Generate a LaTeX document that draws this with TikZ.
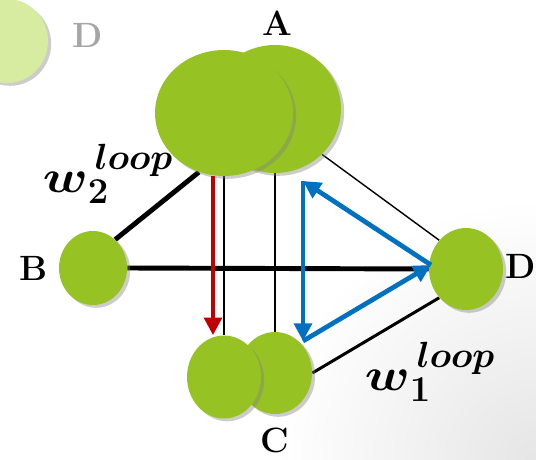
\documentclass[tikz,border=0pt]{standalone}
\usetikzlibrary{shapes.geometric,shadows,arrows.meta,backgrounds}
\definecolor{leaf}{RGB}{150,195,35}
\definecolor{paleleaf}{RGB}{215,236,160}
\definecolor{loopblue}{RGB}{0,112,192}
\definecolor{loopred}{RGB}{192,0,0}
\begin{document}
\begin{tikzpicture}[x=0.02cm,y=-0.02cm,
	vert/.style={ellipse,fill=leaf,inner sep=0pt,
		drop shadow={shadow xshift=1.8pt,shadow yshift=-1.6pt,opacity=0.4}},
	lbl/.style={font=\fontsize{20}{22}\selectfont\bfseries},
	wlbl/.style={font=\fontsize{28}{32}\selectfont\boldmath},
	walk/.style={line width=2.7pt,-{Triangle[length=10pt,width=10pt]}}]
	\useasboundingbox (0,0) rectangle (536,459);
	%vertices
	\node[vert,fill=paleleaf,minimum width=1.64cm,minimum height=1.68cm] (Dg) at (7,41) {};
	\node[vert,minimum width=2.64cm,minimum height=2.56cm] (Ab) at (275,109) {};
	\node[vert,minimum width=2.76cm,minimum height=2.52cm] (Af) at (224,113) {};
	\node[vert,minimum width=1.36cm,minimum height=1.48cm] (B) at (93,268) {};
	\node[vert,minimum width=1.48cm,minimum height=1.64cm] (D) at (466,269) {};
	\node[vert,minimum width=1.48cm,minimum height=1.64cm] (Cb) at (275,373) {};
	\node[vert,minimum width=1.48cm,minimum height=1.66cm] (Cf) at (224,377) {};
	%labels
	\node[lbl,text=black!35] (Dglab) at (88,35) {D};
	\node[lbl] (Alab) at (277,23) {A};
	\node[lbl] (Blab) at (34,268) {B};
	\node[lbl] (Clab) at (275,440) {C};
	\node[lbl,anchor=east,inner sep=0pt] (Dlab) at (536,266) {D};
	\node[wlbl] (w2) at (108,174) {$\scalebox{1.2}[1.05]{$w$}_2^{\,loop}$};
	\node[wlbl] (w1) at (430,372) {$\scalebox{1.2}[1.05]{$w$}_1^{\,loop}$};
	%edges
	\begin{scope}[on background layer]
		\shade[inner color=black!10,outer color=white] (536,459) circle (260);
		\draw[line width=2.8pt] (B.52) -- (Af.247);
		\draw[line width=2.8pt] (B.east) -- (D.west);
		\draw[line width=0.8pt] (Af.south) -- (Cf.north);
		\draw[line width=0.8pt] (Ab.south) -- (Cb.north);
		\draw[line width=0.8pt] (Ab.316) -- (D.133);
		\draw[line width=1.7pt] (Cb.east) -- (D.227);
	\end{scope}
	%walks
	\draw[walk,loopred,line width=2.4pt]
		([xshift=-0.22cm]Af.south) -- ([xshift=-0.22cm]Cf.north);
	\coordinate (lpT) at (303,181);
	\coordinate (lpB) at (303,341);
	\coordinate (lpR) at (431,265);
	\draw[walk,loopblue] (lpR) -- (lpT);
	\draw[walk,loopblue] (lpT) -- (lpB);
	\draw[walk,loopblue] (lpB) -- (lpR);
\end{tikzpicture}
\end{document}
